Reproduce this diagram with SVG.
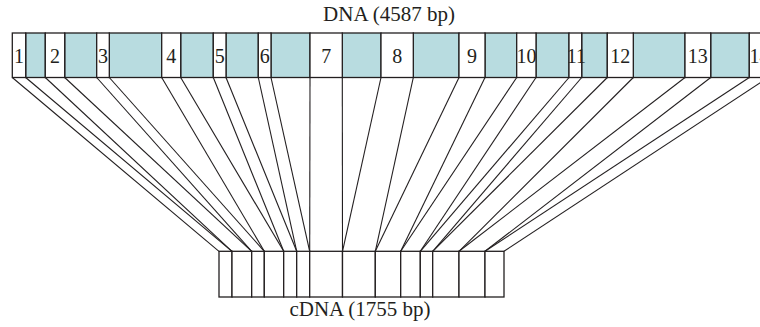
<svg xmlns="http://www.w3.org/2000/svg" width="760" height="327" viewBox="0 0 760 327">
<style>
.ex{fill:#ffffff;stroke:#231f20;stroke-width:1.3}
.in{fill:#b8dce0;stroke:#231f20;stroke-width:1.3}
.cd{fill:#ffffff;stroke:#231f20;stroke-width:1.3}
.lbl{font-family:"Liberation Serif","Times New Roman",serif;font-size:20px;fill:#231f20;text-anchor:middle}
.ttl{font-family:"Liberation Serif","Times New Roman",serif;font-size:21px;fill:#231f20;text-anchor:middle}
.con line{stroke:#231f20;stroke-width:1.1}
</style>
<rect width="760" height="327" fill="#ffffff"/>
<text class="ttl" x="389" y="21">DNA (4587 bp)</text>
<g id="dna">
<g id="intron-1"><rect class="in" x="25.7" y="33" width="19.6" height="44.5"/></g>
<g id="intron-2"><rect class="in" x="64.7" y="33" width="32" height="44.5"/></g>
<g id="intron-3"><rect class="in" x="109.3" y="33" width="52.4" height="44.5"/></g>
<g id="intron-4"><rect class="in" x="180.7" y="33" width="32.6" height="44.5"/></g>
<g id="intron-5"><rect class="in" x="226" y="33" width="32.3" height="44.5"/></g>
<g id="intron-6"><rect class="in" x="271" y="33" width="39" height="44.5"/></g>
<g id="intron-7"><rect class="in" x="342.3" y="33" width="38.7" height="44.5"/></g>
<g id="intron-8"><rect class="in" x="413.3" y="33" width="45.7" height="44.5"/></g>
<g id="intron-9"><rect class="in" x="485" y="33" width="31.7" height="44.5"/></g>
<g id="intron-10"><rect class="in" x="536" y="33" width="33" height="44.5"/></g>
<g id="intron-11"><rect class="in" x="581.7" y="33" width="25.6" height="44.5"/></g>
<g id="intron-12"><rect class="in" x="633.3" y="33" width="51.7" height="44.5"/></g>
<g id="intron-13"><rect class="in" x="710.7" y="33" width="38.6" height="44.5"/></g>
<g id="exon-1"><rect class="ex" x="12.3" y="33" width="13.4" height="44.5"/><text class="lbl" x="19" y="62.7">1</text></g>
<g id="exon-2"><rect class="ex" x="45.3" y="33" width="19.4" height="44.5"/><text class="lbl" x="55" y="62.7">2</text></g>
<g id="exon-3"><rect class="ex" x="96.7" y="33" width="12.6" height="44.5"/><text class="lbl" x="103" y="62.7">3</text></g>
<g id="exon-4"><rect class="ex" x="161.7" y="33" width="19" height="44.5"/><text class="lbl" x="171.2" y="62.7">4</text></g>
<g id="exon-5"><rect class="ex" x="213.3" y="33" width="12.7" height="44.5"/><text class="lbl" x="219.7" y="62.7">5</text></g>
<g id="exon-6"><rect class="ex" x="258.3" y="33" width="12.7" height="44.5"/><text class="lbl" x="264.7" y="62.7">6</text></g>
<g id="exon-7"><rect class="ex" x="310" y="33" width="32.3" height="44.5"/><text class="lbl" x="326.2" y="62.7">7</text></g>
<g id="exon-8"><rect class="ex" x="381" y="33" width="32.3" height="44.5"/><text class="lbl" x="397.2" y="62.7">8</text></g>
<g id="exon-9"><rect class="ex" x="459" y="33" width="26" height="44.5"/><text class="lbl" x="472" y="62.7">9</text></g>
<g id="exon-10"><rect class="ex" x="516.7" y="33" width="19.3" height="44.5"/><text class="lbl" x="526.4" y="62.7">10</text></g>
<g id="exon-11"><rect class="ex" x="569" y="33" width="12.7" height="44.5"/><text class="lbl" x="576.5" y="62.7">11</text></g>
<g id="exon-12"><rect class="ex" x="607.3" y="33" width="26" height="44.5"/><text class="lbl" x="620.3" y="62.7">12</text></g>
<g id="exon-13"><rect class="ex" x="685" y="33" width="25.7" height="44.5"/><text class="lbl" x="697.8" y="62.7">13</text></g>
<g id="exon-14"><rect class="ex" x="749.3" y="33" width="19" height="44.5"/><text class="lbl" x="759.5" y="62.7">14</text></g>
</g>
<g id="cdna">
<rect class="cd" x="219" y="251.3" width="13" height="45.7"/>
<rect class="cd" x="232" y="251.3" width="19.7" height="45.7"/>
<rect class="cd" x="251.7" y="251.3" width="12.6" height="45.7"/>
<rect class="cd" x="264.3" y="251.3" width="19.4" height="45.7"/>
<rect class="cd" x="283.7" y="251.3" width="13" height="45.7"/>
<rect class="cd" x="296.7" y="251.3" width="13" height="45.7"/>
<rect class="cd" x="309.7" y="251.3" width="32.8" height="45.7"/>
<rect class="cd" x="342.5" y="251.3" width="32.8" height="45.7"/>
<rect class="cd" x="375.3" y="251.3" width="25.4" height="45.7"/>
<rect class="cd" x="400.7" y="251.3" width="19.6" height="45.7"/>
<rect class="cd" x="420.3" y="251.3" width="12.4" height="45.7"/>
<rect class="cd" x="432.7" y="251.3" width="26.3" height="45.7"/>
<rect class="cd" x="459" y="251.3" width="26" height="45.7"/>
<rect class="cd" x="485" y="251.3" width="19" height="45.7"/>
</g>
<text class="ttl" x="360" y="316">cDNA (1755 bp)</text>
<g id="connectors" class="con">
<line x1="12.3" y1="77.5" x2="219" y2="251.3"/>
<line x1="25.7" y1="77.5" x2="232" y2="251.3"/>
<line x1="45.3" y1="77.5" x2="232" y2="251.3"/>
<line x1="64.7" y1="77.5" x2="251.7" y2="251.3"/>
<line x1="96.7" y1="77.5" x2="251.7" y2="251.3"/>
<line x1="109.3" y1="77.5" x2="264.3" y2="251.3"/>
<line x1="161.7" y1="77.5" x2="264.3" y2="251.3"/>
<line x1="180.7" y1="77.5" x2="283.7" y2="251.3"/>
<line x1="213.3" y1="77.5" x2="283.7" y2="251.3"/>
<line x1="226" y1="77.5" x2="296.7" y2="251.3"/>
<line x1="258.3" y1="77.5" x2="296.7" y2="251.3"/>
<line x1="271" y1="77.5" x2="309.7" y2="251.3"/>
<line x1="310" y1="77.5" x2="309.7" y2="251.3"/>
<line x1="342.3" y1="77.5" x2="342.5" y2="251.3"/>
<line x1="381" y1="77.5" x2="342.5" y2="251.3"/>
<line x1="413.3" y1="77.5" x2="375.3" y2="251.3"/>
<line x1="459" y1="77.5" x2="375.3" y2="251.3"/>
<line x1="485" y1="77.5" x2="400.7" y2="251.3"/>
<line x1="516.7" y1="77.5" x2="400.7" y2="251.3"/>
<line x1="536" y1="77.5" x2="420.3" y2="251.3"/>
<line x1="569" y1="77.5" x2="420.3" y2="251.3"/>
<line x1="581.7" y1="77.5" x2="432.7" y2="251.3"/>
<line x1="607.3" y1="77.5" x2="432.7" y2="251.3"/>
<line x1="633.3" y1="77.5" x2="459" y2="251.3"/>
<line x1="685" y1="77.5" x2="459" y2="251.3"/>
<line x1="710.7" y1="77.5" x2="485" y2="251.3"/>
<line x1="749.3" y1="77.5" x2="485" y2="251.3"/>
<line x1="768.3" y1="77.5" x2="504" y2="251.3"/>
</g>
</svg>
